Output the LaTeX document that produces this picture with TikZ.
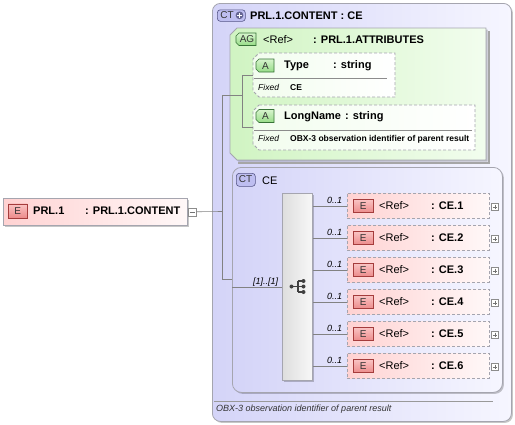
\documentclass[tikz,border=0pt]{standalone}
\usepackage{fontspec}
\setmainfont{Liberation Sans}
\usetikzlibrary{shadows}
\definecolor{lav}{RGB}{212,212,248}
\definecolor{lavlight}{RGB}{246,246,255}
\definecolor{grn}{RGB}{208,244,194}
\definecolor{grnlight}{RGB}{242,253,238}
\definecolor{pnk}{RGB}{255,210,210}
\definecolor{pnklight}{RGB}{255,248,248}
\definecolor{bordergray}{RGB}{165,165,175}
\definecolor{linegray}{RGB}{130,130,130}
\definecolor{ebadge}{RGB}{236,140,140}
\definecolor{ebadgelt}{RGB}{250,196,196}
\definecolor{eborder}{RGB}{165,60,60}
\definecolor{abadge}{RGB}{150,220,135}
\definecolor{abadgelt}{RGB}{215,245,205}
\definecolor{aborder}{RGB}{55,115,55}
\definecolor{cbadge}{RGB}{190,190,240}
\definecolor{cborder}{RGB}{85,85,135}
\newcommand\chamfbox[6]{\draw[#1] (#2+#6,#3) -- (#4,#3) -- (#4,#5) -- (#2+#6,#5) -- (#2,#5-#6) -- (#2,#3+#6) -- cycle;}
\tikzset{
  shad/.style={drop shadow={shadow xshift=1.5pt,shadow yshift=-1.5pt,fill=black,opacity=0.22}},
  lavbox/.style={draw=bordergray, line width=0.8pt, rounded corners=8pt, left color=lav, right color=lavlight, shad, inner sep=0pt, anchor=north west},
  grnbox/.style={draw=bordergray, line width=0.8pt, left color=grn, right color=grnlight, shad},
  attbox/.style={draw=bordergray, dash pattern=on 3pt off 2pt, line width=0.8pt, left color=grnlight, right color=white},
  elbox/.style={draw=bordergray, dash pattern=on 3pt off 2pt, line width=0.8pt, left color=pnk, right color=pnklight, inner sep=0pt, anchor=north west, minimum width=142pt, minimum height=25pt},
  topel/.style={draw=bordergray, line width=0.8pt, left color=pnk, right color=pnklight, inner sep=0pt, anchor=north west, shad},
  ebadgest/.style={draw=eborder, line width=0.6pt, top color=ebadgelt, bottom color=ebadge, inner sep=0pt, minimum width=20pt, minimum height=13pt, font=\fontsize{10}{11}\selectfont, text=black!80},
  abadgest/.style={draw=aborder, line width=0.6pt, top color=abadgelt, bottom color=abadge},
  cbadgest/.style={draw=cborder, line width=0.6pt, fill=cbadge, rounded corners=3pt, inner sep=0pt, anchor=north west},
  btn/.style={draw=black!45, line width=0.5pt, fill=white, inner sep=0pt, minimum size=7pt, anchor=north west},
  conn/.style={draw=linegray, line width=0.6pt},
  t/.style={anchor=base west, inner sep=0pt},
  big/.style={t, font=\fontsize{11}{13}\selectfont\bfseries},
  reg/.style={t, font=\fontsize{11}{13}\selectfont},
  small/.style={t, font=\fontsize{8.5}{10}\selectfont\bfseries},
  smit/.style={t, font=\fontsize{8.5}{10}\selectfont\itshape},
  card/.style={t, font=\fontsize{9}{10}\selectfont\itshape},
  bdg/.style={inner sep=0pt, font=\fontsize{10}{11}\selectfont, text=black!80},
}
\begin{document}
\begin{tikzpicture}[x=1pt,y=-1pt]
\useasboundingbox (0,0) rectangle (515,424);

% outer complex type box
\node[lavbox, minimum width=299pt, minimum height=418pt] (outer) at (212,3) {};
\node[cbadgest, minimum width=28pt, minimum height=11.5pt] (ctbadge) at (217,9.5) {};
\node[bdg] (ctlbl) at (227,15.5) {CT};
\fill[cborder!90] (239.5,15.3) circle (3.9pt);
\draw[white, line width=1.2pt] (237.2,15.3) -- (241.8,15.3) (239.5,13) -- (239.5,17.6);
\node[big] (hdr) at (250,19.5) {PRL.1.CONTENT : CE};

% attribute group
\draw[black!35, line width=1.6pt] (489,31) -- (489,163) -- (238,163);
\chamfbox{grnbox}{230}{28}{486}{160}{7}
\chamfbox{abadgest}{236}{33}{256}{45.5}{3}
\node[bdg] (aglbl) at (247,39.5) {AG};
\node[reg] (agref) at (263,43) {<Ref>};
\node[big] (agtype) at (313,43) {: PRL.1.ATTRIBUTES};

% attribute Type
\chamfbox{attbox}{253}{53}{395}{97}{6}
\draw[black!45, line width=0.5pt] (254,78.5) -- (387,78.5);
\chamfbox{abadgest}{256}{59}{274}{72}{3}
\node[bdg] (a1lbl) at (265.5,65.7) {A};
\node[big] (a1name) at (284,68.5) {Type};
\node[big] (a1type) at (333,68.5) {: string};
\node[smit] (a1fx) at (258,90.5) {Fixed};
\node[small] (a1val) at (290,90.5) {CE};

% attribute LongName
\chamfbox{attbox}{253}{105}{475}{150}{6}
\draw[black!45, line width=0.5pt] (254,130) -- (472,130);
\chamfbox{abadgest}{256}{109.5}{274}{122.5}{3}
\node[bdg] (a2lbl) at (265.5,116.2) {A};
\node[big] (a2name) at (284,119.5) {LongName};
\node[big] (a2type) at (345,119.5) {: string};
\node[smit] (a2fx) at (258,141.5) {Fixed};
\node[small] (a2val) at (290,141.5) {OBX-3 observation identifier of parent result};

% CE complex type
\node[lavbox, minimum width=270pt, minimum height=225pt, rounded corners=9pt] (cebox) at (232,167) {};
\node[cbadgest, minimum width=19pt, minimum height=13pt] (cebadge) at (236,173) {};
\node[bdg] (celbl) at (245.5,179.5) {CT};
\node[reg] (cename) at (262,184) {CE};

% sequence compositor
\node[draw=bordergray, line width=0.8pt, left color=black!13, right color=black!3, inner sep=0pt, anchor=north west, minimum width=30pt, minimum height=187pt, shad] (seq) at (282,193) {};
\fill[black!75] (291.5,286.5) circle (2pt);
\draw[black!75, line width=1.1pt] (291.5,286.5) -- (298,286.5) (298,281) -- (298,292) (298,281) -- (303,281) (298,286.5) -- (303,286.5) (298,292) -- (303,292);
\fill[black!75] (303.5,281) circle (2pt) (303.5,286.5) circle (2pt) (303.5,292) circle (2pt);
\node[card] (seqcard) at (253,284) {[1]..[1]};

% child elements
\foreach \i in {1,...,6} {
  \pgfmathsetmacro{\yt}{193+32*(\i-1)}
  \node[elbox] (el\i) at (347,\yt) {};
  \node[ebadgest, anchor=north west] (eb\i) at (353,\yt+6) {E};
  \node[reg] (eref\i) at (379,\yt+16.5) {<Ref>};
  \node[big] (etype\i) at (431,\yt+16.5) {: CE.\i};
  \node[card] (ecard\i) at (327,\yt+10) {0..1};
  \node[btn] (ebtn\i) at (491,\yt+10) {};
  \draw[black!55, line width=0.5pt] ([xshift=1.5pt]ebtn\i.west) -- ([xshift=-1.5pt]ebtn\i.east) ([yshift=-1.5pt]ebtn\i.north) -- ([yshift=1.5pt]ebtn\i.south);
  \draw[conn] (seq.east |- el\i.west) -- (el\i.west);
}

% top-level element
\node[topel, minimum width=184pt, minimum height=27pt] (prl) at (3,198) {};
\node[ebadgest, anchor=north west, minimum width=19pt, minimum height=14pt] (prlbadge) at (8,203.5) {E};
\node[big] (prlname) at (33,214.5) {PRL.1};
\node[big] (prltype) at (85,214.5) {: PRL.1.CONTENT};
\node[btn, minimum size=8pt] (prlbtn) at (188,207.5) {};
\draw[black!55, line width=0.5pt] ([xshift=1.5pt]prlbtn.west) -- ([xshift=-1.5pt]prlbtn.east);

% footer
\draw[black!40, line width=0.5pt] (214,401) -- (493,401);
\node[t, font=\fontsize{9}{10}\selectfont\itshape, text=black!80] (footer) at (216,411.5) {OBX-3 observation identifier of parent result};

% connectors
\coordinate (trunk) at (222.5,211.5);
\coordinate (trtop) at (222.5,95);
\coordinate (trbot) at (222.5,279.5);
\coordinate (agj) at (242,95);
\coordinate (agt) at (242,75);
\coordinate (agb) at (242,127);
\coordinate (cein) at (232,287);
\draw[conn] (prlbtn.east) -- (trunk);
\draw[conn] (trtop) -- (trbot) -- (trbot -| cebox.west);
\draw[conn] (trtop) -- (agj);
\draw[conn] (agt) -- (agb);
\draw[conn] (agt) -- (253,75);
\draw[conn] (agb) -- (253,127);
\draw[conn] (cein) -- (cein -| seq.west);
\end{tikzpicture}
\end{document}
